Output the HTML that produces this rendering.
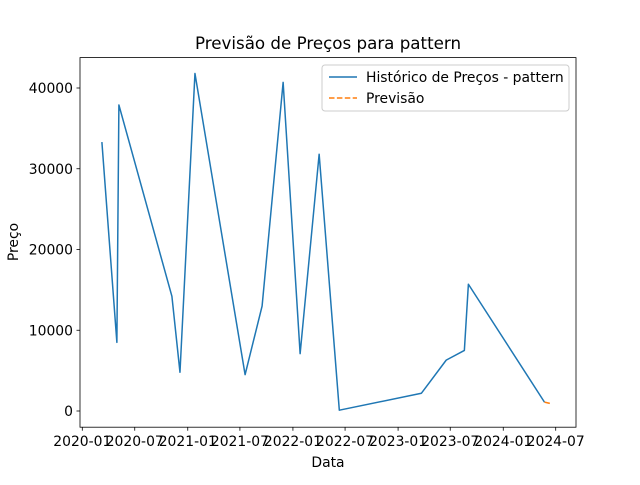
<!DOCTYPE html>
<html><head><meta charset="utf-8"><style>
body{margin:0;background:#fff;}
svg{font-family:"DejaVu Sans","Liberation Sans",sans-serif;}
</style></head><body>
<svg id="chart" width="640" height="480" xmlns="http://www.w3.org/2000/svg">
<rect width="640" height="480" fill="#fff"/>
<text x="328" y="49" font-size="16.7" text-anchor="middle">Previsão de Preços para pattern</text>
<g id="plot"></g>
<rect x="80" y="57.6" width="496" height="369.6" fill="none" stroke="#000" stroke-width="0.8"/>
<text x="328" y="467" font-size="13.9" text-anchor="middle">Data</text>
<text transform="translate(18,242) rotate(-90)" font-size="13.9" text-anchor="middle">Preço</text>
<g>
<rect x="322" y="65" width="247" height="46" rx="3" fill="#fff" fill-opacity="0.8" stroke="#ccc"/>
<line x1="329" y1="77" x2="357" y2="77" stroke="#1f77b4" stroke-width="1.5"/>
<text x="366" y="82" font-size="13.9">Histórico de Preços - pattern</text>
<line x1="329" y1="98" x2="357" y2="98" stroke="#ff7f0e" stroke-width="1.5" stroke-dasharray="5.5,2.4"/>
<text x="366" y="103" font-size="13.9">Previsão</text>
</g>
</svg>
<script>
const histDates=["2020-03-09","2020-04-30","2020-05-07","2020-11-07","2020-12-05","2021-01-26","2021-07-19","2021-09-16","2021-11-28","2022-01-26","2022-04-02","2022-06-11","2023-03-23","2023-06-17","2023-08-19","2023-09-02","2024-05-23"];
const histValues=[33300,8500,37900,14200,4800,41800,4500,13000,40700,7100,31800,100,2200,6300,7500,15700,1100];
const forecastDates=["2024-05-23","2024-06-16"];
const forecastValues=[1100,900];
const xTickDates=["2020-01-01","2020-07-01","2021-01-01","2021-07-01","2022-01-01","2022-07-01","2023-01-01","2023-07-01","2024-01-01","2024-07-01"];
const xTickLabels=["2020-01","2020-07","2021-01","2021-07","2022-01","2022-07","2023-01","2023-07","2024-01","2024-07"];
const yTicks=[0,10000,20000,30000,40000];

const NS="http://www.w3.org/2000/svg";
const t0=Date.UTC(2020,0,1), t1=Date.UTC(2024,6,1);
function ms(s){const p=s.split("-");return Date.UTC(+p[0],+p[1]-1,+p[2]);}
function xs(s){return 82.3+(ms(s)-t0)/(t1-t0)*(555.7-82.3);}
function ys(v){return 411-v/40000*(411-88);}
const g=document.getElementById("plot");
function mk(tag,attrs){const e=document.createElementNS(NS,tag);for(const k in attrs)e.setAttribute(k,attrs[k]);g.appendChild(e);return e;}
xTickDates.forEach((d,i)=>{const x=xs(d);
 const l=mk("line",{x1:x,x2:x,y1:427.2,y2:430.7,stroke:"#000","stroke-width":0.8});
 
 
 const t=mk("text",{x:x,y:446,"font-size":13.9,"text-anchor":"middle"});t.textContent=xTickLabels[i];
 
 
});
yTicks.forEach(v=>{const y=ys(v);
 const l=mk("line",{x1:76.5,x2:80,y1:y,y2:y,stroke:"#000","stroke-width":0.8});
 
 
 const t=mk("text",{x:73,y:y+5,"font-size":13.9,"text-anchor":"end"});t.textContent=v;
 
 
});
const hp=mk("polyline",{points:histDates.map((d,i)=>xs(d)+","+ys(histValues[i])).join(" "),fill:"none",stroke:"#1f77b4","stroke-width":1.5,"stroke-linejoin":"round"});


const fp=mk("polyline",{points:forecastDates.map((d,i)=>xs(d)+","+ys(forecastValues[i])).join(" "),fill:"none",stroke:"#ff7f0e","stroke-width":1.5,"stroke-dasharray":"5.5,2.4"});


</script>
</body></html>
